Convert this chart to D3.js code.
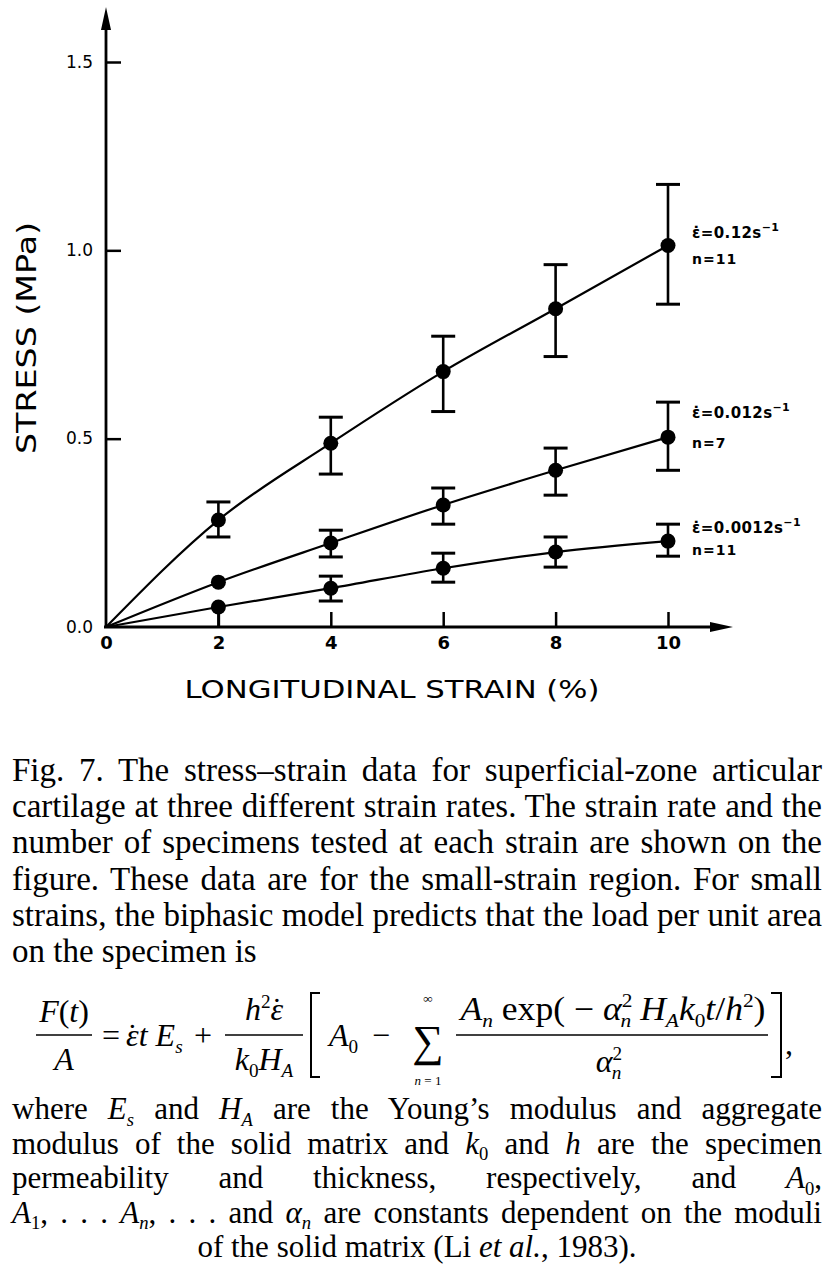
<!DOCTYPE html>
<html>
<head>
<meta charset="utf-8">
<script src="https://cdn.jsdelivr.net/npm/d3@7"></script>
<style>
  html, body { margin: 0; padding: 0; background: #fff; }
  svg { display: block; }
</style>
</head>
<body>
<svg id="chart" width="834" height="1276"></svg>
<script>
// ---------------- data ----------------
const strain = [0, 2, 4, 6, 8, 10];
const xTickValues = [0, 2, 4, 6, 8, 10];
const yTickValues = [0, 0.5, 1.0, 1.5];
const yTickLabels = ["0.0", "0.5", "1.0", "1.5"];

// strain rate 0.12 s^-1, n = 11
const stressFast = [0, 0.284, 0.488, 0.678, 0.845, 1.013];
const fastLo     = [0, 0.239, 0.406, 0.572, 0.718, 0.857];
const fastHi     = [0, 0.332, 0.557, 0.772, 0.962, 1.175];
// strain rate 0.012 s^-1, n = 7
const stressMid  = [0, 0.119, 0.223, 0.324, 0.416, 0.504];
const midLo      = [0, 0.119, 0.186, 0.273, 0.350, 0.416];
const midHi      = [0, 0.119, 0.257, 0.369, 0.475, 0.597];
// strain rate 0.0012 s^-1, n = 11
const stressSlow = [0, 0.053, 0.103, 0.156, 0.199, 0.228];
const slowLo     = [0, 0.000, 0.069, 0.119, 0.159, 0.188];
const slowHi     = [0, 0.053, 0.135, 0.196, 0.239, 0.273];

const rateLabels = ["0.12", "0.012", "0.0012"];
const nLabels = ["11", "7", "11"];

const xTitle = "LONGITUDINAL STRAIN (%)";
const yTitle = "STRESS (MPa)";

// ---------------- layout ----------------
const svg = d3.select("#chart");
const x = d3.scaleLinear().domain([0, 10]).range([106, 668]);
const y = d3.scaleLinear().domain([0, 1.5]).range([627, 62]);
const sans = "'DejaVu Sans', sans-serif";
const serif = "'Liberation Serif', 'Times New Roman', serif";

const series = [
  { v: stressFast, lo: fastLo, hi: fastHi, lab: [-13, 13] },
  { v: stressMid,  lo: midLo,  hi: midHi,  lab: [-25, 5] },
  { v: stressSlow, lo: slowLo, hi: slowHi, lab: [-14, 8] }
];

const g = svg.append("g");

// axes
const yAxis = d3.axisLeft(y).tickValues(yTickValues)
  .tickFormat((d, i) => yTickLabels[i]).tickSizeInner(-15).tickSizeOuter(0).tickPadding(13);
const yg = g.append("g").attr("transform", `translate(${x(0)},0)`).call(yAxis);
yg.select(".domain").remove();
yg.selectAll(".tick line").attr("stroke", "#000").attr("stroke-width", 2.5)
  .filter(d => d === 0).remove();
yg.selectAll(".tick text").attr("font-family", sans).attr("font-size", 17)
  .attr("fill", "#000").attr("dy", "0.3em");

const xAxis = d3.axisBottom(x).tickValues(xTickValues).tickFormat(d3.format("d"))
  .tickSizeInner(-15).tickSizeOuter(0).tickPadding(9);
const xg = g.append("g").attr("transform", `translate(0,${y(0)})`).call(xAxis);
xg.select(".domain").remove();
xg.selectAll(".tick line").attr("stroke", "#000").attr("stroke-width", 2.5)
  .filter(d => d === 0).remove();
xg.selectAll(".tick text").attr("font-family", sans).attr("font-size", 18)
  .attr("font-weight", "bold").attr("fill", "#000");

// axis lines with arrows
g.append("line").attr("x1", x(0)).attr("x2", x(0)).attr("y1", y(0) + 1).attr("y2", 25)
  .attr("stroke", "#000").attr("stroke-width", 2.8);
g.append("path").attr("d", `M${x(0)},7 L${x(0) - 5},30 L${x(0) + 5},30 Z`).attr("fill", "#000");
g.append("line").attr("x1", x(0) - 2).attr("x2", 715).attr("y1", y(0)).attr("y2", y(0))
  .attr("stroke", "#000").attr("stroke-width", 2.8);
g.append("path").attr("d", `M733,${y(0)} L710,${y(0) - 5} L710,${y(0) + 5} Z`).attr("fill", "#000");

// axis titles
g.append("text").attr("x", 392).attr("y", 698).attr("text-anchor", "middle")
  .attr("font-family", sans).attr("font-size", 25).attr("textLength", 415)
  .attr("lengthAdjust", "spacingAndGlyphs").text(xTitle);
g.append("text").attr("transform", "translate(36,338) rotate(-90)").attr("text-anchor", "middle")
  .attr("font-family", sans).attr("font-size", 27).attr("textLength", 232)
  .attr("lengthAdjust", "spacingAndGlyphs").text(yTitle);

// curves, error bars, markers
const line = d3.line().x((d, i) => x(strain[i])).y(d => y(d)).curve(d3.curveMonotoneX);
series.forEach((s, si) => {
  const sg = g.append("g");
  sg.append("path").attr("d", line(s.v)).attr("fill", "none")
    .attr("stroke", "#000").attr("stroke-width", 2.2);
  s.v.forEach((v, i) => {
    if (i === 0) return;
    const cx = x(strain[i]);
    if (s.lo[i] !== s.hi[i]) {
      sg.append("line").attr("x1", cx).attr("x2", cx).attr("y1", y(s.lo[i])).attr("y2", y(s.hi[i]))
        .attr("stroke", "#000").attr("stroke-width", 2.6);
      [s.lo[i], s.hi[i]].forEach(e => {
        if (Math.abs(e - v) > 0.015 && e > 0) {
          sg.append("line").attr("x1", cx - 12).attr("x2", cx + 12).attr("y1", y(e)).attr("y2", y(e))
            .attr("stroke", "#000").attr("stroke-width", 3);
        }
      });
    }
    sg.append("circle").attr("cx", cx).attr("cy", y(v)).attr("r", 7.5).attr("fill", "#000");
  });
  // label
  const lx = x(10) + 24, ly = y(s.v[s.v.length - 1]);
  const t = sg.append("text").attr("x", lx).attr("y", ly + s.lab[0] + 6)
    .attr("font-family", sans).attr("font-size", 15).attr("font-weight", "bold")
    .attr("letter-spacing", 0.4).attr("fill", "#000");
  t.append("tspan").text("ε\u0307=" + rateLabels[si] + "s");
  t.append("tspan").attr("dy", -7).attr("font-size", 11).text("−1");
  sg.append("text").attr("x", lx).attr("y", ly + s.lab[1] + 6)
    .attr("font-family", sans).attr("font-size", 14).attr("font-weight", "bold")
    .attr("letter-spacing", 1).text("n=" + nLabels[si]);
});

// ---------------- caption ----------------
const FS = 33;
function rich(sel, segs, size) {
  let shift = 0;
  segs.forEach(s => {
    if (typeof s === "string") s = { t: s };
    const ts = sel.append("tspan").text(s.t);
    const target = s.sub ? size * 0.22 : s.sup ? -size * 0.38 : 0;
    if (target !== shift) { ts.attr("dy", target - shift); shift = target; }
    if (s.dx) ts.attr("dx", s.dx * size);
    if (s.sub || s.sup) ts.attr("font-size", size * 0.6);
    if (s.it) ts.attr("font-style", "italic");
  });
}
function textLine(segs, xPos, yPos, mode, width, size) {
  size = size || FS;
  const t = g.append("text").attr("x", xPos).attr("y", yPos)
    .attr("font-family", serif).attr("font-size", size).attr("fill", "#000");
  rich(t, segs, size);
  if (mode === "justify") {
    const nat = t.node().getComputedTextLength();
    const gaps = (t.text().match(/ /g) || []).length;
    if (nat < width && gaps) t.style("word-spacing", ((width - nat) / gaps) + "px");
    else t.attr("textLength", width).attr("lengthAdjust", "spacingAndGlyphs");
  } else if (mode === "center") {
    t.attr("text-anchor", "middle");
  }
  return t;
}
const L = 12, W = 810;
const capLines = [
  "Fig. 7. The stress–strain data for superficial-zone articular",
  "cartilage at three different strain rates. The strain rate and the",
  "number of specimens tested at each strain are shown on the",
  "figure. These data are for the small-strain region. For small",
  "strains, the biphasic model predicts that the load per unit area"
];
capLines.forEach((s, i) => textLine([s], L, 781 + i * 36.2, "justify", W));
textLine(["on the specimen is"], L, 781 + 5 * 36.2, "left");

// equation
const EF = 32;
const eq = g.append("g").attr("font-family", serif).attr("fill", "#000");
function eqText(segs, xp, yp, anchor, size, fit) {
  const t = eq.append("text").attr("x", xp).attr("y", yp).attr("font-size", size || EF)
    .attr("text-anchor", anchor || "start");
  rich(t, segs, size || EF);
  if (fit) t.attr("textLength", fit).attr("lengthAdjust", "spacingAndGlyphs");
  return t;
}
// dotted epsilon: epsilon followed by a dot accent pulled back over it
const epsDot = [{ t: "ε", it: 1 }, { t: "˙", dx: -0.36 }];
const barY = 1035;
eqText([{ t: "F", it: 1 }, "(", { t: "t", it: 1 }, ")"], 64, 1022, "middle");
eq.append("line").attr("x1", 36).attr("x2", 92).attr("y1", barY).attr("y2", barY).attr("stroke", "#000").attr("stroke-width", 1.6);
eqText([{ t: "A", it: 1 }], 64, 1070, "middle");
eqText(["="], 102, 1046);
eqText([...epsDot, { t: "t E", it: 1, dx: 0.03 }, { t: "s", it: 1, sub: 1 }], 126, 1046);
eqText(["+"], 194, 1046);
eqText([{ t: "h", it: 1 }, { t: "2", sup: 1 }, ...epsDot], 264, 1020, "middle");
eq.append("line").attr("x1", 225).attr("x2", 303).attr("y1", barY).attr("y2", barY).attr("stroke", "#000").attr("stroke-width", 1.6);
eqText([{ t: "k", it: 1 }, { t: "0", sub: 1 }, { t: "H", it: 1 }, { t: "A", it: 1, sub: 1 }], 264, 1070, "middle");
eq.append("path").attr("d", "M320,993 H311 V1077 H320").attr("fill", "none").attr("stroke", "#000").attr("stroke-width", 2);
eqText([{ t: "A", it: 1 }, { t: "0", sub: 1 }], 329, 1046);
eqText(["−"], 372, 1046);
eqText(["∑"], 428, 1056, "middle", 44);
eqText([{ t: "∞", it: 1 }], 428, 1003, "middle", 13);
eqText([{ t: "n", it: 1 }, " = 1"], 428, 1085, "middle", 13);
eqText([{ t: "A", it: 1 }, { t: "n", it: 1, sub: 1 }, " exp( − ", { t: "α", it: 1 }, { t: "2", sup: 1 },
        { t: "n", it: 1, sub: 1, dx: -0.33 }, { t: " H", it: 1 }, { t: "A", it: 1, sub: 1 }, { t: "k", it: 1 },
        { t: "0", sub: 1 }, { t: "t", it: 1 }, "/", { t: "h", it: 1 }, { t: "2", sup: 1 }, ")"], 613, 1020, "middle", 33, 305);
eq.append("line").attr("x1", 456).attr("x2", 768).attr("y1", barY).attr("y2", barY).attr("stroke", "#000").attr("stroke-width", 1.6);
eqText([{ t: "α", it: 1 }, { t: "2", sup: 1 }, { t: "n", it: 1, sub: 1, dx: -0.33 }], 609, 1072, "middle");
eq.append("path").attr("d", "M771,993 H781 V1077 H771").attr("fill", "none").attr("stroke", "#000").attr("stroke-width", 2);
eqText([","], 785, 1054);

// text after equation
const B0 = 1119, BS = 34.5, BF = 31;
textLine(["where ", { t: "E", it: 1 }, { t: "s", it: 1, sub: 1 }, " and ", { t: "H", it: 1 }, { t: "A", it: 1, sub: 1 },
  " are the Young’s modulus and aggregate"], L, B0, "justify", W, BF);
textLine(["modulus of the solid matrix and ", { t: "k", it: 1 }, { t: "0", sub: 1 }, " and ", { t: "h", it: 1 },
  " are the specimen"], L, B0 + BS, "justify", W, BF);
textLine(["permeability and thickness, respectively, and ", { t: "A", it: 1 }, { t: "0", sub: 1 }, ","],
  L, B0 + 2 * BS, "justify", W, BF);
textLine([{ t: "A", it: 1 }, { t: "1", sub: 1 }, ", . . . ", { t: "A", it: 1 }, { t: "n", it: 1, sub: 1 },
  ", . . . and ", { t: "α", it: 1 }, { t: "n", it: 1, sub: 1 }, " are constants dependent on the moduli"],
  L, B0 + 3 * BS, "justify", W, BF);
textLine(["of the solid matrix (Li ", { t: "et al.", it: 1 }, ", 1983)."], 417, B0 + 4 * BS, "center", 0, BF);
</script>
</body>
</html>
